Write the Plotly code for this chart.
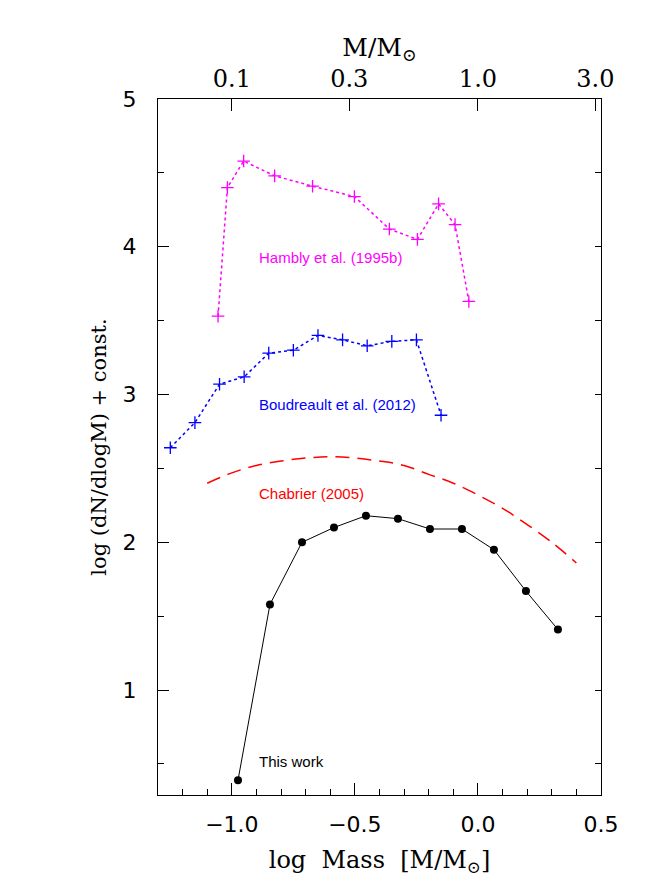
import numpy as np
import plotly.graph_objects as go

# ---------------- data ----------------
this_work_logm = [-0.975, -0.845, -0.715, -0.585, -0.455, -0.325, -0.195, -0.065, 0.065, 0.195, 0.325]
this_work_val = [0.39, 1.58, 2.00, 2.10, 2.18, 2.16, 2.09, 2.09, 1.95, 1.67, 1.41]

boud_logm = [-1.25, -1.15, -1.05, -0.95, -0.85, -0.75, -0.65, -0.55, -0.45, -0.35, -0.25, -0.15]
boud_val = [2.64, 2.81, 3.07, 3.12, 3.28, 3.30, 3.40, 3.37, 3.33, 3.36, 3.37, 2.86]

hambly_logm = [-1.056, -1.018, -0.952, -0.826, -0.672, -0.502, -0.360, -0.246, -0.160, -0.093, -0.037]
hambly_val = [3.53, 4.40, 4.58, 4.48, 4.41, 4.34, 4.12, 4.05, 4.29, 4.15, 3.63]

chab_logm = [-1.10, -1.00, -0.90, -0.80, -0.70, -0.60, -0.50, -0.40, -0.30, -0.20,
             -0.10, 0.00, 0.10, 0.20, 0.30, 0.40]
chab_val = [2.40, 2.47, 2.52, 2.55, 2.57, 2.58, 2.57, 2.55, 2.52, 2.46,
            2.40, 2.32, 2.23, 2.12, 2.00, 1.86]

top_tick_masses = [0.1, 0.3, 1.0, 3.0]
top_tick_labels = ["0.1", "0.3", "1.0", "3.0"]

series_labels = ["Hambly et al. (1995b)", "Boudreault et al. (2012)", "Chabrier (2005)", "This work"]
label_pos_x = [-0.897, -0.897, -0.897, -0.897]
label_pos_y = [3.93, 2.93, 2.33, 0.52]
label_colors = ["#ff00ff", "#0000ff", "#ff0000", "#000000"]

XR = [-1.3, 0.5]
YR = [0.29, 5.0]

SANS = "Liberation Sans, Arial, sans-serif"
TICKSANS = "DejaVu Sans, sans-serif"
SERIF = "DejaVu Serif, serif"

fig = go.Figure()

fig.add_trace(go.Scatter(
    x=hambly_logm, y=hambly_val, mode="lines+markers", xaxis="x2",
    line=dict(color="#ff00ff", width=1.5, dash="dot"),
    marker=dict(symbol="cross-thin", size=9, color="#ff00ff",
                line=dict(color="#ff00ff", width=1.3)),
    showlegend=False, hoverinfo="skip"))

fig.add_trace(go.Scatter(
    x=boud_logm, y=boud_val, mode="lines+markers", yaxis="y2",
    line=dict(color="#0000ff", width=1.5, dash="dot"),
    marker=dict(symbol="cross-thin", size=9, color="#0000ff",
                line=dict(color="#0000ff", width=1.3)),
    showlegend=False, hoverinfo="skip"))

fig.add_trace(go.Scatter(
    x=chab_logm, y=chab_val, mode="lines", line_shape="spline",
    line=dict(color="#ff0000", width=1.5, dash="14px,8px"),
    showlegend=False, hoverinfo="skip"))

fig.add_trace(go.Scatter(
    x=this_work_logm, y=this_work_val, mode="lines+markers",
    line=dict(color="black", width=1),
    marker=dict(symbol="circle", size=8, color="black"),
    showlegend=False, hoverinfo="skip"))

for t, xx, yy, c in zip(series_labels, label_pos_x, label_pos_y, label_colors):
    fig.add_annotation(x=xx, y=yy, xref="x", yref="y", text=t, showarrow=False,
                       xanchor="left", yanchor="middle",
                       font=dict(family=SANS, size=15, color=c))

fig.update_layout(
    width=656, height=888,
    margin=dict(l=150, r=63, t=91, b=101),
    paper_bgcolor="white", plot_bgcolor="white",
    xaxis=dict(
        range=XR, tick0=0, dtick=0.5, tickformat=".1f", automargin=False,
        ticks="inside", ticklen=12, tickwidth=1, tickcolor="black",
        minor=dict(dtick=0.1, ticks="inside", ticklen=6, tickwidth=1, tickcolor="black"),
        showline=True, linecolor="black", linewidth=1, mirror=True,
        showgrid=False, zeroline=False,
        tickfont=dict(family=TICKSANS, size=22, color="black"),
        ticklabelstandoff=10,
        title=dict(text="log  Mass  [M/M<sub>⊙</sub>]", standoff=14,
                   font=dict(family=SERIF, size=24, color="black")),
    ),
    xaxis2=dict(
        overlaying="x", side="top", range=XR, automargin=False,
        tickvals=list(np.log10(top_tick_masses)), ticktext=top_tick_labels,
        ticks="inside", ticklen=12, tickwidth=1, tickcolor="black",
        showline=False, showgrid=False, zeroline=False,
        tickfont=dict(family=SERIF, size=24, color="black"),
        ticklabelstandoff=6,
        title=dict(text="M/M<sub>⊙</sub>", standoff=0,
                   font=dict(family=SERIF, size=25, color="black")),
    ),
    yaxis=dict(
        range=YR, tick0=0, dtick=1, automargin=False,
        ticks="inside", ticklen=11, tickwidth=1, tickcolor="black",
        minor=dict(dtick=0.5, ticks="inside", ticklen=6, tickwidth=1, tickcolor="black"),
        showline=True, linecolor="black", linewidth=1, mirror=True,
        showgrid=False, zeroline=False,
        tickfont=dict(family=TICKSANS, size=22, color="black"),
        ticklabelstandoff=16,
        title=dict(text="log (dN/dlogM) + const.", standoff=10,
                   font=dict(family=SERIF, size=21, color="black")),
    ),
    yaxis2=dict(
        overlaying="y", side="right", range=YR, tick0=0, dtick=0.5, automargin=False,
        ticks="inside", ticklen=6, tickwidth=1, tickcolor="black",
        showticklabels=False, showline=False, showgrid=False, zeroline=False,
    ),
)

fig.write_html("out.html")
